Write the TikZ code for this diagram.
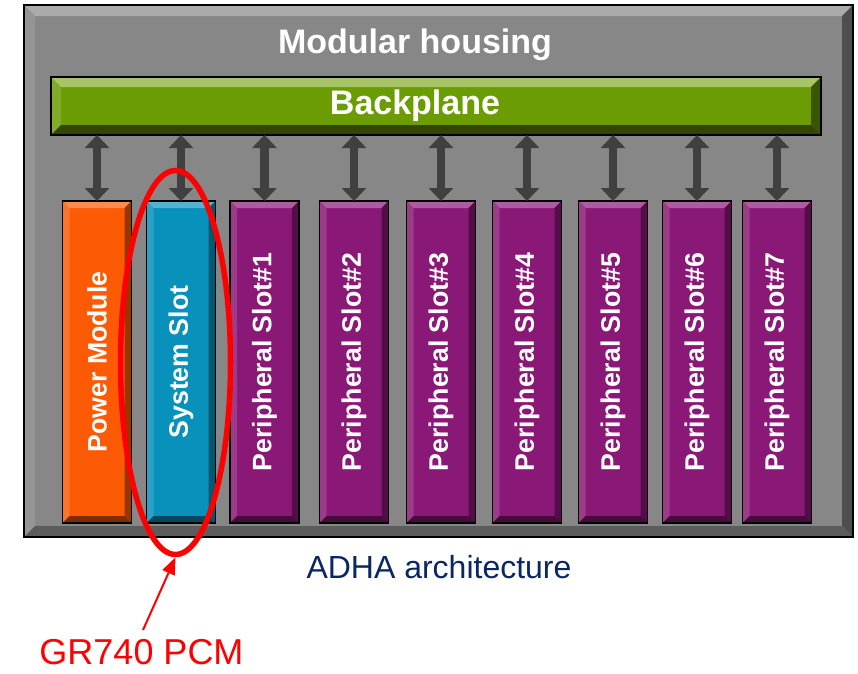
\documentclass[tikz,border=0pt]{standalone}
\usepackage{fontspec}
\setmainfont{Liberation Sans}
\usetikzlibrary{shapes.geometric,arrows.meta,calc}
\definecolor{housegray}{HTML}{878787}
\definecolor{houselight}{HTML}{ABABAB}
\definecolor{houseleft}{HTML}{959595}
\definecolor{housedark}{HTML}{4E4E4E}
\definecolor{housebot}{HTML}{5C5C5C}
\definecolor{bpgreen}{HTML}{6C9C04}
\definecolor{pmorange}{HTML}{FC5A04}
\definecolor{ssblue}{HTML}{0891BB}
\definecolor{pspurple}{HTML}{8A1876}
\definecolor{arrowgray}{HTML}{404040}
\definecolor{navytext}{HTML}{0B2763}
\newcommand\bevelbox[6]{% name, size, top, left, right, bottom
  \fill[#3] (#1.north west) -- (#1.north east) -- ($(#1.north east)+(-#2,#2)$) -- ($(#1.north west)+(#2,#2)$) -- cycle;
  \fill[#4] (#1.north west) -- ($(#1.north west)+(#2,#2)$) -- ($(#1.south west)+(#2,-#2)$) -- (#1.south west) -- cycle;
  \fill[#5] (#1.north east) -- ($(#1.north east)+(-#2,#2)$) -- ($(#1.south east)+(-#2,-#2)$) -- (#1.south east) -- cycle;
  \fill[#6] (#1.south west) -- ($(#1.south west)+(#2,-#2)$) -- ($(#1.south east)+(-#2,-#2)$) -- (#1.south east) -- cycle;
  \draw[black, line width=1.5pt] (#1.north west) rectangle (#1.south east);
}
\newcommand\mkslot[4]{% name, centre x, colour, label
  \node[slotbox, fill=#3] (#1) at (#2,362) {};
  \bevelbox{#1}{7}{#3!70!white}{#3!85!white}{#3!60!black}{#3!50!black}
  \node[slottext] at (#1.center) {#4};
  \draw[dblarrow] (#1.north |- bp.south) -- (#1.north);
}
\tikzset{
  box/.style={draw=black, line width=1.5pt, inner sep=0pt, outer sep=0pt},
  slotbox/.style={box, minimum width=69pt, minimum height=322pt},
  slottext/.style={rotate=90, text=white, font=\fontsize{26.7}{32}\selectfont\bfseries},
  dblarrow/.style={arrowgray, line width=8.5pt,
    {Triangle[width=24pt,length=13pt]}-{Triangle[width=24pt,length=13pt]}},
  title/.style={text=white, font=\fontsize{34}{40}\selectfont\bfseries, anchor=base}
}
\begin{document}
\begin{tikzpicture}[x=1pt,y=-1pt]
\useasboundingbox (0,0) rectangle (858,673);
\fill[white] (0,0) rectangle (858,673);
% housing
\node[box, fill=housegray, minimum width=829pt, minimum height=532pt] (housing) at (438.5,271) {};
\bevelbox{housing}{11}{houselight}{houseleft}{housedark}{housebot}
\node[title] (htitle) at (415,53) {Modular housing};
% backplane
\node[box, fill=bpgreen, minimum width=770pt, minimum height=58pt] (bp) at (436,106) {};
\bevelbox{bp}{10}{bpgreen!60!white}{bpgreen!85!white}{bpgreen!55!black}{bpgreen!45!black}
\node[title] (bptitle) at (415,114) {Backplane};
% slots
\mkslot{pm}{97}{pmorange}{Power Module}
\mkslot{ss}{181}{ssblue}{System Slot}
\mkslot{p1}{264.5}{pspurple}{Peripheral Slot\#1}
\mkslot{p2}{354}{pspurple}{Peripheral Slot\#2}
\mkslot{p3}{441}{pspurple}{Peripheral Slot\#3}
\mkslot{p4}{527}{pspurple}{Peripheral Slot\#4}
\mkslot{p5}{613}{pspurple}{Peripheral Slot\#5}
\mkslot{p6}{697}{pspurple}{Peripheral Slot\#6}
\mkslot{p7}{777}{pspurple}{Peripheral Slot\#7}
% caption
\node[text=navytext, font=\fontsize{32}{38}\selectfont, anchor=base] (cap) at (439,578) {ADHA architecture};
% highlight
\node[ellipse, draw=red, line width=5.5pt, minimum width=110pt, minimum height=384pt, inner sep=0pt] (pcm) at (175.5,362.5) {};
\node[text=red, font=\fontsize{36}{42}\selectfont, anchor=base, inner sep=0pt] (gr) at (141.5,664) {GR740 PCM};
\coordinate (tail) at (143,630);
\draw[red, line width=2pt, -{Triangle[width=13pt,length=17pt]}] (tail) -- (pcm.south);
\end{tikzpicture}
\end{document}
